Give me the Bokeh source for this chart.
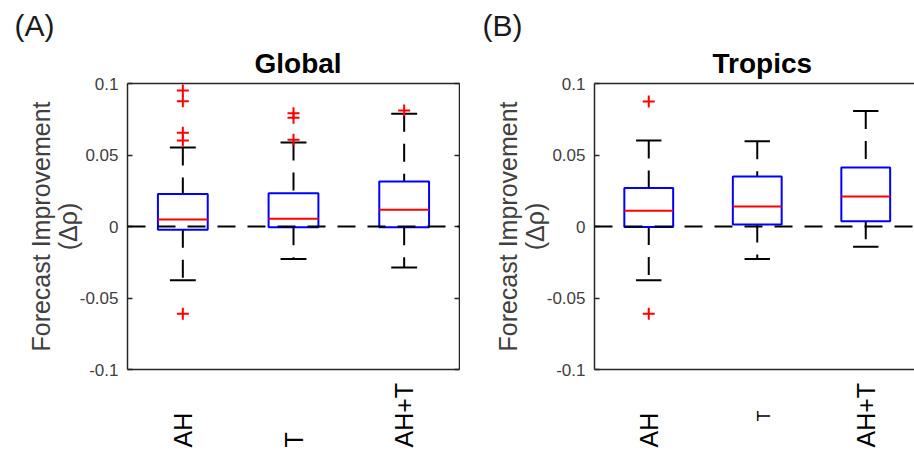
import math
from bokeh.plotting import figure
from bokeh.models import (ColumnDataSource, FixedTicker, LinearAxis, Span, Title, Range1d)
from bokeh.layouts import row, column
from bokeh.embed import file_html
from bokeh.resources import INLINE
from bokeh.core.properties import value

# ---------------- data ----------------
groups = ["AH", "T", "AH+T"]
group_pos = [1, 2, 3]
ytick_values = [-0.1, -0.05, 0, 0.05, 0.1]
ytick_labels = ["-0.1", "-0.05", "0", "0.05", "0.1"]
ylabel_line1 = "Forecast Improvement"
ylabel_line2 = "(\u0394\u03c1)"

# Global
g_lower = [-0.0375, -0.0228, -0.0287]
g_q1 = [-0.0023, -0.0005, -0.0005]
g_median = [0.0049, 0.0054, 0.0117]
g_q3 = [0.0228, 0.0233, 0.0315]
g_upper = [0.0552, 0.0587, 0.0788]
g_out_group = ["AH", "AH", "AH", "AH", "AH", "T", "T", "T", "AH+T"]
g_out_value = [0.0951, 0.0876, 0.0655, 0.0601, -0.0611, 0.0792, 0.0760, 0.0606, 0.0811]

# Tropics
t_lower = [-0.0375, -0.0228, -0.0142]
t_q1 = [-0.0003, 0.0014, 0.0037]
t_median = [0.0110, 0.0140, 0.0210]
t_q3 = [0.0270, 0.0350, 0.0413]
t_upper = [0.0601, 0.0597, 0.0807]
t_out_group = ["AH", "AH"]
t_out_value = [0.0874, -0.0611]

# ---------------- style ----------------
FONT = "Liberation Sans"
BOX_HALF = 0.225
CAP_HALF = 0.117
FRAME_COLOR = "#262626"
TEXT_GRAY = "#404040"
DASH = "18 12"
FRAME_H = 286
TOP_BORDER = 83
BOTTOM_BORDER = 12
FOOTER_H = 69


def make_panel(letter, title, lower, q1, med, q3, upper, out_group, out_value,
               frame_w, border_left, border_right, x_end, right_axis,
               title_offset, letter_offset, xlabel_sizes, xlabel_lift, xlabel_shift):
    xr = Range1d(0.5, x_end)
    p = figure(frame_width=frame_w, frame_height=FRAME_H,
               min_border_left=border_left, min_border_right=border_right,
               min_border_top=TOP_BORDER, min_border_bottom=BOTTOM_BORDER,
               x_range=xr, y_range=Range1d(-0.1, 0.1), title=None,
               x_axis_location=None, y_axis_location=None,
               output_backend="svg", toolbar_location=None)
    p.outline_line_color = None
    p.grid.visible = False

    # left axis with tick labels and the second line of the axis title
    ya = LinearAxis(ticker=FixedTicker(ticks=ytick_values),
                    major_label_overrides=dict(zip(ytick_values, ytick_labels)))
    ya.axis_line_color = FRAME_COLOR
    ya.axis_line_width = 1.5
    ya.major_tick_in = 5
    ya.major_tick_out = 0
    ya.major_tick_line_color = FRAME_COLOR
    ya.major_tick_line_width = 1.5
    ya.minor_tick_line_color = None
    ya.major_label_text_font = FONT
    ya.major_label_text_font_size = "17px"
    ya.major_label_text_color = TEXT_GRAY
    ya.major_label_standoff = 9
    ya.axis_label = ylabel_line2
    ya.axis_label_text_font = FONT
    ya.axis_label_text_font_size = "25px"
    ya.axis_label_text_font_style = "normal"
    ya.axis_label_text_color = TEXT_GRAY
    ya.axis_label_standoff = -5
    p.add_layout(ya, "left")

    # outer left axis carrying only the first line of the axis title
    ya2 = LinearAxis(ticker=FixedTicker(ticks=[]))
    ya2.axis_line_color = None
    ya2.major_tick_in = 0
    ya2.major_tick_out = 0
    ya2.minor_tick_line_color = None
    ya2.major_label_text_color = None
    ya2.major_label_standoff = 0
    ya2.axis_label = ylabel_line1
    ya2.axis_label_text_font = FONT
    ya2.axis_label_text_font_size = "25px"
    ya2.axis_label_text_font_style = "normal"
    ya2.axis_label_text_color = TEXT_GRAY
    ya2.axis_label_standoff = -4
    p.add_layout(ya2, "left")

    def plain_axis():
        a = LinearAxis(ticker=FixedTicker(ticks=[]))
        a.axis_line_color = FRAME_COLOR
        a.axis_line_width = 1.5
        a.major_tick_in = 0
        a.major_tick_out = 0
        a.minor_tick_line_color = None
        a.major_label_text_color = None
        a.major_label_standoff = 0
        return a

    p.add_layout(plain_axis(), "below")
    p.add_layout(plain_axis(), "above")
    if right_axis:
        ra = LinearAxis(ticker=FixedTicker(ticks=ytick_values))
        ra.axis_line_color = FRAME_COLOR
        ra.axis_line_width = 1.5
        ra.major_tick_in = 5
        ra.major_tick_out = 0
        ra.major_tick_line_color = FRAME_COLOR
        ra.major_tick_line_width = 1.5
        ra.minor_tick_line_color = None
        ra.major_label_text_color = None
        ra.major_label_text_font_size = "1px"
        ra.major_label_standoff = 0
        p.add_layout(ra, "right")

    # titles (first added sits nearest the frame)
    p.add_layout(Title(text=title, align="left", offset=title_offset, standoff=9,
                       text_font=FONT, text_font_size="28px", text_font_style="bold",
                       text_color="black"), "above")
    p.add_layout(Title(text=letter, align="left", offset=letter_offset, standoff=0,
                       text_font=FONT, text_font_size="30px", text_font_style="normal",
                       text_color="#1a1a1a"), "above")

    src = ColumnDataSource(dict(
        x=group_pos,
        bl=[x - BOX_HALF for x in group_pos], br=[x + BOX_HALF for x in group_pos],
        cl=[x - CAP_HALF for x in group_pos], cr=[x + CAP_HALF for x in group_pos],
        lower=lower, q1=q1, med=med, q3=q3, upper=upper))

    # whiskers
    p.segment(x0="x", x1="x", y0="upper", y1="q3", source=src, line_color="black",
              line_width=2, line_dash=DASH)
    p.segment(x0="x", x1="x", y0="q1", y1="lower", source=src, line_color="black",
              line_width=2, line_dash=DASH)
    # caps
    p.segment(x0="cl", x1="cr", y0="upper", y1="upper", source=src, line_color="black", line_width=2)
    p.segment(x0="cl", x1="cr", y0="lower", y1="lower", source=src, line_color="black", line_width=2)
    # boxes
    p.quad(left="bl", right="br", bottom="q1", top="q3", source=src, fill_color=None,
           line_color="#0000ff", line_width=2)
    # medians
    p.segment(x0="bl", x1="br", y0="med", y1="med", source=src, line_color="#ff0000", line_width=2)

    # zero line
    p.add_layout(Span(location=0, dimension="width", line_color="black", line_width=2,
                      line_dash=DASH))

    # outliers
    ox = [group_pos[groups.index(g)] for g in out_group]
    p.scatter(x=ox, y=out_value, marker="cross", size=12, line_color="#ff0000", line_width=2)

    # footer with the rotated category labels, sharing the x scale
    f = figure(frame_width=frame_w, frame_height=FOOTER_H,
               min_border_left=border_left, min_border_right=border_right,
               min_border_top=0, min_border_bottom=0, title=None,
               x_range=xr, y_range=Range1d(0, FOOTER_H),
               x_axis_location=None, y_axis_location=None,
               output_backend="svg", toolbar_location=None)
    f.outline_line_color = None
    f.grid.visible = False
    f.text(x=group_pos, y=xlabel_lift, text=groups, angle=math.pi / 2,
           x_offset=xlabel_shift,
           text_align="left", text_baseline="middle", text_font=value(FONT),
           text_font_size=xlabel_sizes, text_color="black")

    return column(p, f, spacing=0)


pa = make_panel("(A)", "Global", g_lower, g_q1, g_median, g_q3, g_upper, g_out_group, g_out_value,
                frame_w=332, border_left=127, border_right=1, x_end=3.5, right_axis=True,
                title_offset=127, letter_offset=-113,
                xlabel_sizes=["25px", "25px", "25px"], xlabel_lift=[3, 3, 3],
                xlabel_shift=[0, 0, 0])
pb = make_panel("(B)", "Tropics", t_lower, t_q1, t_median, t_q3, t_upper, t_out_group, t_out_value,
                frame_w=320, border_left=134, border_right=0, x_end=0.5 + 320 / 108.5, right_axis=False,
                title_offset=118, letter_offset=-112,
                xlabel_sizes=["25px", "18px", "25px"], xlabel_lift=[3, 29, 3],
                xlabel_shift=[0, 7, 0])

layout = row(pa, pb, spacing=0)
open("out.html", "w").write(file_html(layout, INLINE))
